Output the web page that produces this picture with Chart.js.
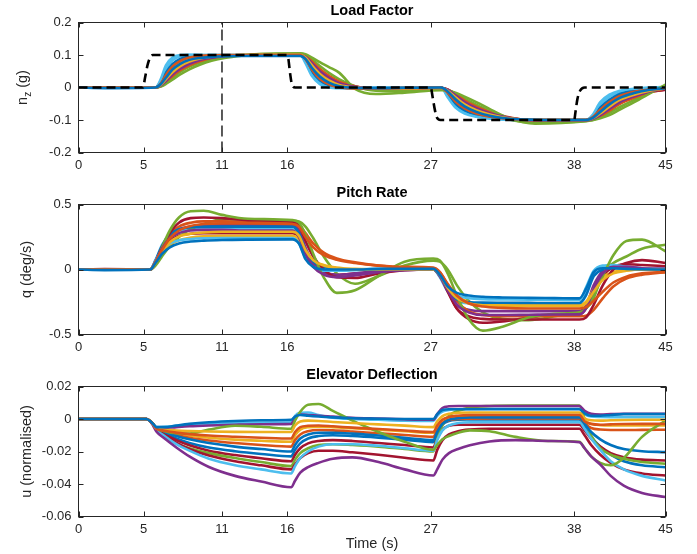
<!DOCTYPE html>
<html><head><meta charset="utf-8">
<script src="https://cdn.jsdelivr.net/npm/chart.js@4.4.1/dist/chart.umd.min.js"></script>
<style>
html,body{margin:0;padding:0;background:#fff;}
body{width:697px;height:554px;position:relative;overflow:hidden;}
canvas{position:absolute;left:0;}
</style></head><body>
<canvas id="c1" width="697" height="182" style="top:0px"></canvas>
<canvas id="c2" width="697" height="182" style="top:182px"></canvas>
<canvas id="c3" width="697" height="190" style="top:364px"></canvas>
<script>
// ---------- shared ticks ----------
const xTicks = [0, 5, 11, 16, 27, 38, 45];
const yTicksNz = [-0.2, -0.1, 0, 0.1, 0.2];
const yTicksQ = [-0.5, 0, 0.5];
const yTicksU = [-0.06, -0.04, -0.02, 0, 0.02];
const titles = ['Load Factor', 'Pitch Rate', 'Elevator Deflection'];

// ---------- Load factor (n_z) ----------
const tRef = [0, 4.95, 5.1, 5.3, 5.5, 5.7, 16, 16.1, 16.2, 16.35, 16.6, 27, 27.15, 27.3, 27.45, 27.75, 38, 38.1, 38.25, 38.45, 38.8, 45];
const nzRef = [0, 0, 0.03, 0.07, 0.093, 0.1, 0.1, 0.085, 0.05, 0.012, 0, 0, -0.03, -0.065, -0.09, -0.1, -0.1, -0.075, -0.035, -0.01, 0, 0];
const tMark = [11, 11];
const nzMark = [-0.2, 0.2];

const t1 = [0, 2, 5.9, 6.3, 6.7, 7.2, 7.8, 8.5, 9.3, 10.2, 11.2, 12.5, 14, 17.0, 17.4, 17.9, 18.5, 19.2, 20, 21.2, 22.8, 25, 27.8, 28.3, 28.9, 29.6, 30.5, 31.6, 33, 35, 38.9, 39.4, 40, 40.7, 41.5, 42.6, 43.8, 45];
const nz1 = [0, -0.002, 0, 0.01, 0.03, 0.055, 0.073, 0.085, 0.091, 0.094, 0.096, 0.097, 0.097, 0.097, 0.088, 0.06, 0.034, 0.015, 0.004, -0.001, -0.002, -0.001, 0, -0.012, -0.036, -0.058, -0.075, -0.088, -0.096, -0.099, -0.1, -0.094, -0.075, -0.052, -0.032, -0.017, -0.007, -0.002];
const nz2 = [0, 0, 0, 0.012, 0.038, 0.064, 0.082, 0.092, 0.097, 0.099, 0.1, 0.1, 0.1, 0.1, 0.087, 0.055, 0.027, 0.01, 0.001, -0.003, -0.003, -0.001, 0, -0.016, -0.043, -0.064, -0.08, -0.09, -0.097, -0.1, -0.1, -0.092, -0.068, -0.045, -0.026, -0.013, -0.006, -0.004];
const nz3 = [0, 0, 0, 0.008, 0.025, 0.047, 0.066, 0.08, 0.089, 0.095, 0.098, 0.1, 0.101, 0.101, 0.092, 0.068, 0.042, 0.022, 0.008, 0, -0.003, -0.003, -0.001, -0.01, -0.03, -0.052, -0.07, -0.084, -0.095, -0.1, -0.1, -0.095, -0.08, -0.059, -0.038, -0.022, -0.01, -0.003];
const nz4 = [0, 0, 0, 0.006, 0.02, 0.04, 0.058, 0.073, 0.085, 0.092, 0.096, 0.099, 0.1, 0.1, 0.094, 0.075, 0.05, 0.03, 0.013, 0.002, -0.004, -0.003, -0.001, -0.007, -0.024, -0.045, -0.064, -0.08, -0.093, -0.101, -0.101, -0.097, -0.085, -0.066, -0.045, -0.027, -0.012, -0.004];
const nz5 = [0, 0, 0, 0.003, 0.011, 0.024, 0.04, 0.056, 0.07, 0.082, 0.091, 0.098, 0.103, 0.105, 0.102, 0.092, 0.078, 0.063, 0.045, -0.004, -0.02, -0.016, -0.008, -0.009, -0.016, -0.028, -0.045, -0.068, -0.095, -0.111, -0.104, -0.101, -0.095, -0.085, -0.068, -0.045, -0.018, 0.009];
const nz6 = [0, 0, 0, 0.025, 0.068, 0.092, 0.1, 0.101, 0.1, 0.1, 0.1, 0.1, 0.1, 0.1, 0.075, 0.035, 0.01, 0, -0.002, -0.002, -0.001, 0, 0, -0.03, -0.062, -0.08, -0.09, -0.096, -0.099, -0.1, -0.1, -0.085, -0.045, -0.022, -0.01, -0.004, -0.001, 0.002];
const nz7 = [0, 0, 0, 0.007, 0.022, 0.044, 0.062, 0.077, 0.088, 0.094, 0.097, 0.099, 0.099, 0.099, 0.093, 0.072, 0.046, 0.026, 0.01, 0.001, -0.004, -0.004, -0.002, -0.008, -0.027, -0.048, -0.067, -0.082, -0.094, -0.1, -0.1, -0.096, -0.082, -0.062, -0.042, -0.025, -0.012, -0.007];
const nz8 = [0, 0, 0, 0.015, 0.045, 0.072, 0.088, 0.095, 0.098, 0.099, 0.099, 0.099, 0.099, 0.099, 0.085, 0.05, 0.022, 0.007, 0, -0.002, -0.002, -0.001, 0, -0.02, -0.05, -0.07, -0.084, -0.093, -0.098, -0.1, -0.1, -0.09, -0.062, -0.038, -0.02, -0.009, -0.003, 0];
const nz9 = [0, 0, 0, 0.005, 0.017, 0.035, 0.053, 0.068, 0.081, 0.09, 0.095, 0.099, 0.101, 0.102, 0.097, 0.08, 0.057, 0.036, 0.018, 0.004, -0.004, -0.004, -0.002, -0.006, -0.02, -0.04, -0.059, -0.077, -0.092, -0.102, -0.102, -0.098, -0.088, -0.071, -0.05, -0.031, -0.014, -0.006];
const nz10 = [0, 0, 0, 0.011, 0.033, 0.059, 0.077, 0.088, 0.094, 0.097, 0.099, 0.1, 0.1, 0.1, 0.089, 0.06, 0.032, 0.013, 0.003, -0.002, -0.003, -0.002, 0, -0.014, -0.039, -0.061, -0.078, -0.089, -0.096, -0.1, -0.1, -0.093, -0.072, -0.048, -0.029, -0.015, -0.006, -0.001];
const nz11 = [0, 0, 0, 0.008, 0.024, 0.046, 0.064, 0.078, 0.088, 0.094, 0.097, 0.099, 0.1, 0.1, 0.092, 0.07, 0.044, 0.024, 0.009, 0.001, -0.003, -0.003, -0.001, -0.009, -0.028, -0.05, -0.069, -0.083, -0.095, -0.1, -0.1, -0.096, -0.083, -0.063, -0.042, -0.025, -0.011, -0.005];
const nz12 = [0, 0, 0, 0.004, 0.014, 0.03, 0.048, 0.064, 0.077, 0.087, 0.094, 0.099, 0.103, 0.104, 0.1, 0.086, 0.066, 0.045, 0.025, 0.004, -0.01, -0.012, -0.006, -0.008, -0.018, -0.034, -0.053, -0.075, -0.098, -0.108, -0.103, -0.1, -0.092, -0.078, -0.06, -0.038, -0.016, 0.005];
const nz13 = [0, 0, 0, 0.02, 0.056, 0.083, 0.096, 0.1, 0.1, 0.1, 0.1, 0.1, 0.1, 0.1, 0.08, 0.042, 0.016, 0.003, -0.001, -0.002, -0.001, 0, 0, -0.025, -0.056, -0.076, -0.088, -0.095, -0.099, -0.1, -0.1, -0.088, -0.052, -0.028, -0.013, -0.005, -0.001, 0.001];
const nz14 = [0, 0, 0, 0.006, 0.019, 0.038, 0.056, 0.071, 0.083, 0.091, 0.096, 0.099, 0.1, 0.1, 0.095, 0.077, 0.053, 0.033, 0.015, 0.003, -0.004, -0.004, -0.002, -0.007, -0.023, -0.043, -0.062, -0.079, -0.093, -0.101, -0.101, -0.098, -0.087, -0.07, -0.049, -0.03, -0.014, -0.007];

// ---------- Pitch rate (q) ----------
const t2 = [0, 2, 5.5, 5.9, 6.4, 7, 7.7, 8.6, 9.6, 11, 13, 16.4, 16.9, 17.4, 18, 18.8, 19.8, 21.2, 23, 25, 27.2, 27.7, 28.3, 29, 29.9, 31, 32.5, 34.5, 36.5, 38.4, 38.9, 39.5, 40.2, 41, 42, 43.2, 45];
const q1 = [0, -0.005, 0, 0.05, 0.12, 0.17, 0.2, 0.215, 0.222, 0.227, 0.23, 0.232, 0.2, 0.08, 0.02, 0.0, 0.0, 0.0, 0.005, 0.005, 0.005, -0.04, -0.13, -0.18, -0.2, -0.21, -0.215, -0.218, -0.22, -0.222, -0.15, -0.02, 0.01, 0.01, 0.005, 0.002, 0.0];
const q2 = [0, 0, 0, 0.06, 0.15, 0.24, 0.3, 0.335, 0.35, 0.355, 0.355, 0.35, 0.33, 0.25, 0.17, 0.11, 0.075, 0.05, 0.03, 0.02, 0.015, -0.02, -0.11, -0.2, -0.26, -0.285, -0.295, -0.3, -0.3, -0.3, -0.29, -0.24, -0.17, -0.1, -0.055, -0.03, -0.02];
const q3 = [0, 0, 0, 0.05, 0.14, 0.21, 0.255, 0.275, 0.285, 0.29, 0.29, 0.29, 0.26, 0.15, 0.07, 0.03, 0.01, 0.0, 0.0, 0.0, 0.0, -0.04, -0.14, -0.22, -0.26, -0.275, -0.28, -0.282, -0.283, -0.283, -0.26, -0.17, -0.08, -0.03, -0.01, 0.0, 0.0];
const q4 = [0, 0, 0, 0.06, 0.16, 0.24, 0.28, 0.3, 0.305, 0.305, 0.3, 0.3, 0.25, 0.12, 0.02, -0.04, -0.06, -0.045, -0.02, -0.005, 0.0, -0.05, -0.16, -0.27, -0.33, -0.35, -0.35, -0.348, -0.346, -0.345, -0.3, -0.15, -0.03, 0.02, 0.02, 0.01, 0.005];
const q5 = [0, 0, 0, 0.05, 0.17, 0.3, 0.4, 0.448, 0.452, 0.42, 0.39, 0.38, 0.36, 0.27, 0.12, -0.06, -0.18, -0.16, -0.05, 0.06, 0.085, 0.07, -0.03, -0.2, -0.38, -0.47, -0.44, -0.37, -0.34, -0.33, -0.3, -0.2, -0.05, 0.11, 0.22, 0.23, 0.14];
const q6 = [0, 0, 0, 0.07, 0.15, 0.2, 0.225, 0.235, 0.24, 0.242, 0.242, 0.242, 0.2, 0.09, 0.02, -0.01, -0.01, 0.0, 0.005, 0.005, 0.005, -0.05, -0.15, -0.2, -0.22, -0.228, -0.23, -0.232, -0.233, -0.235, -0.14, -0.01, 0.03, 0.035, 0.02, 0.01, 0.005];
const q7 = [0, 0.003, 0, 0.06, 0.17, 0.28, 0.36, 0.395, 0.4, 0.395, 0.38, 0.37, 0.34, 0.22, 0.1, 0.0, -0.06, -0.065, -0.03, -0.005, 0.0, -0.05, -0.17, -0.3, -0.36, -0.38, -0.385, -0.385, -0.385, -0.385, -0.37, -0.27, -0.12, 0.0, 0.05, 0.072, 0.05];
const q8 = [0, 0, 0, 0.07, 0.18, 0.27, 0.31, 0.325, 0.33, 0.33, 0.33, 0.33, 0.28, 0.15, 0.06, 0.02, 0.005, 0.0, 0.0, 0.0, 0.0, -0.05, -0.15, -0.23, -0.25, -0.255, -0.256, -0.257, -0.258, -0.258, -0.2, -0.05, 0.0, 0.01, 0.005, 0.0, 0.0];
const q9 = [0, 0, 0, 0.06, 0.17, 0.27, 0.33, 0.36, 0.37, 0.37, 0.365, 0.36, 0.345, 0.28, 0.2, 0.13, 0.085, 0.055, 0.03, 0.015, 0.01, -0.02, -0.12, -0.24, -0.32, -0.35, -0.36, -0.36, -0.36, -0.36, -0.355, -0.31, -0.22, -0.13, -0.07, -0.04, -0.02];
const q10 = [0, 0, 0, 0.05, 0.13, 0.19, 0.225, 0.245, 0.255, 0.26, 0.26, 0.26, 0.23, 0.14, 0.07, 0.035, 0.015, 0.005, 0.0, 0.0, 0.0, -0.03, -0.12, -0.2, -0.25, -0.265, -0.27, -0.27, -0.27, -0.27, -0.25, -0.15, -0.06, -0.02, -0.005, 0.0, 0.0];
const q11 = [0, 0, 0, 0.06, 0.17, 0.26, 0.31, 0.33, 0.34, 0.34, 0.34, 0.34, 0.3, 0.17, 0.05, -0.02, -0.04, -0.03, -0.01, 0.0, 0.0, -0.04, -0.16, -0.27, -0.31, -0.32, -0.32, -0.32, -0.32, -0.32, -0.28, -0.12, -0.01, 0.025, 0.02, 0.01, 0.005];
const q12 = [0, 0, 0, 0.03, 0.1, 0.18, 0.25, 0.31, 0.35, 0.385, 0.385, 0.375, 0.37, 0.33, 0.24, 0.1, -0.03, -0.11, -0.05, 0.03, 0.068, 0.06, 0.0, -0.12, -0.24, -0.33, -0.38, -0.39, -0.36, -0.32, -0.3, -0.22, -0.02, 0.05, 0.1, 0.16, 0.19];
const q13 = [0, 0, 0, 0.07, 0.19, 0.27, 0.3, 0.31, 0.31, 0.31, 0.31, 0.31, 0.26, 0.12, 0.03, 0.0, -0.01, -0.005, 0.0, 0.0, 0.0, -0.06, -0.17, -0.24, -0.26, -0.262, -0.262, -0.262, -0.26, -0.26, -0.17, -0.02, 0.025, 0.02, 0.01, 0.005, 0.0];
const q14 = [0, 0, 0, 0.05, 0.14, 0.22, 0.26, 0.275, 0.28, 0.28, 0.28, 0.28, 0.25, 0.14, 0.04, -0.02, -0.04, -0.03, -0.01, 0.0, 0.0, -0.04, -0.16, -0.3, -0.38, -0.41, -0.4, -0.37, -0.35, -0.345, -0.3, -0.17, -0.05, 0.02, 0.04, 0.035, 0.025];

// ---------- Elevator deflection (u) ----------
const t3 = [0, 2, 5.2, 5.6, 6, 6.6, 7.5, 8.5, 10, 12, 14, 16.3, 16.6, 17, 17.6, 18.4, 19.5, 21, 23, 25, 27.2, 27.5, 27.9, 28.4, 29.1, 30, 31.5, 33.5, 36, 38.4, 38.8, 39.3, 40, 40.8, 41.8, 43.2, 45];
const u1 = [0, 0, 0, -0.002, -0.005, -0.005, -0.004, -0.003, -0.002, -0.0012, -0.0008, -0.0005, 0.0015, 0.0025, 0.002, 0.0015, 0.001, 0.0005, 0.0002, 0, 0, 0.003, 0.0055, 0.006, 0.006, 0.006, 0.006, 0.006, 0.006, 0.006, 0.0035, 0.002, 0.002, 0.0025, 0.003, 0.003, 0.003];
const u2 = [0, 0, 0, -0.002, -0.006, -0.0072, -0.0084, -0.0093, -0.0102, -0.0109, -0.0115, -0.012, -0.008, -0.005, -0.0042, -0.004, -0.0045, -0.0053, -0.0062, -0.0071, -0.008, -0.004, -0.0005, 0.0012, 0.002, 0.0024, 0.0025, 0.0025, 0.0025, 0.0025, -0.0015, -0.003, -0.0035, -0.0033, -0.0031, -0.003, -0.003];
const u3 = [0, 0, 0, -0.002, -0.006, -0.0066, -0.0071, -0.0074, -0.0077, -0.0079, -0.008, -0.008, -0.004, -0.0015, -0.001, -0.0012, -0.0018, -0.0025, -0.0033, -0.0041, -0.005, -0.0015, 0.0018, 0.0032, 0.0038, 0.004, 0.004, 0.004, 0.004, 0.004, 0.0005, -0.0008, -0.001, -0.0008, -0.0006, -0.0005, -0.0005];
const u4 = [0, 0, 0, -0.0025, -0.008, -0.012, -0.0175, -0.023, -0.0295, -0.035, -0.0385, -0.042, -0.038, -0.033, -0.0296, -0.027, -0.0245, -0.0236, -0.0265, -0.031, -0.0348, -0.031, -0.025, -0.021, -0.0185, -0.0162, -0.0138, -0.013, -0.0135, -0.0143, -0.018, -0.023, -0.028, -0.035, -0.041, -0.0455, -0.048];
const u5 = [0, 0, 0, -0.002, -0.006, -0.0075, -0.0088, -0.009, -0.0065, -0.0042, -0.0048, -0.006, -0.001, 0.0045, 0.0088, 0.0092, 0.005, -0.001, -0.008, -0.014, -0.019, -0.016, -0.0125, -0.0105, -0.0085, -0.007, -0.0075, -0.011, -0.0135, -0.014, -0.018, -0.023, -0.027, -0.0285, -0.024, -0.011, -0.001];
const u6 = [0, 0, 0, -0.0022, -0.007, -0.0105, -0.0155, -0.0195, -0.0245, -0.0285, -0.031, -0.0335, -0.029, -0.024, -0.02, -0.017, -0.0155, -0.0155, -0.0165, -0.018, -0.0195, -0.013, -0.007, -0.004, -0.0025, -0.002, -0.002, -0.002, -0.002, -0.002, -0.006, -0.012, -0.019, -0.026, -0.031, -0.035, -0.0378];
const u7 = [0, 0, 0, -0.002, -0.0065, -0.0098, -0.0145, -0.0185, -0.0225, -0.026, -0.0285, -0.031, -0.028, -0.024, -0.021, -0.0195, -0.0195, -0.0205, -0.022, -0.0238, -0.0255, -0.019, -0.013, -0.0095, -0.0075, -0.0065, -0.006, -0.006, -0.006, -0.006, -0.01, -0.016, -0.022, -0.027, -0.031, -0.0335, -0.0348];
const u8 = [0, 0, 0, -0.002, -0.006, -0.0082, -0.0105, -0.0125, -0.0148, -0.017, -0.0185, -0.02, -0.016, -0.012, -0.0095, -0.0085, -0.0085, -0.009, -0.0102, -0.0115, -0.013, -0.008, -0.003, -0.0005, 0.0005, 0.001, 0.001, 0.001, 0.001, 0.001, -0.003, -0.008, -0.0125, -0.016, -0.0185, -0.0198, -0.0204];
const u9 = [0, 0, 0, -0.002, -0.006, -0.0078, -0.0098, -0.0115, -0.0132, -0.0148, -0.016, -0.017, -0.013, -0.0095, -0.0075, -0.0068, -0.007, -0.0077, -0.0088, -0.0098, -0.011, -0.007, -0.0025, -0.0008, 0, 0.0002, 0.0003, 0.0003, 0.0003, 0.0003, -0.003, -0.0055, -0.0065, -0.0068, -0.0068, -0.0067, -0.0066];
const u10 = [0, 0, 0, -0.002, -0.006, -0.0072, -0.0088, -0.0101, -0.0115, -0.0127, -0.0134, -0.014, -0.01, -0.0065, -0.005, -0.0047, -0.005, -0.0057, -0.0066, -0.0075, -0.0085, -0.0045, -0.0005, 0.0012, 0.0018, 0.002, 0.002, 0.002, 0.002, 0.002, -0.001, -0.003, -0.0038, -0.004, -0.004, -0.004, -0.004];
const u11 = [0, 0, 0, -0.002, -0.0055, -0.0055, -0.005, -0.0045, -0.004, -0.0035, -0.0032, -0.003, 0.001, 0.0028, 0.0025, 0.002, 0.0015, 0.0008, 0.0003, -0.0002, -0.0005, 0.003, 0.0068, 0.0078, 0.008, 0.008, 0.008, 0.008, 0.008, 0.008, 0.005, 0.0032, 0.0028, 0.003, 0.0032, 0.0032, 0.0032];
const u12 = [0, 0, 0, -0.002, -0.007, -0.011, -0.015, -0.018, -0.021, -0.024, -0.0265, -0.029, -0.025, -0.021, -0.018, -0.016, -0.0155, -0.016, -0.017, -0.0185, -0.02, -0.012, -0.004, 0.002, 0.005, 0.007, 0.008, 0.0083, 0.0083, 0.0083, 0.0, -0.01, -0.018, -0.022, -0.0245, -0.0265, -0.0275];
const u13 = [0, 0, 0, -0.002, -0.005, -0.0048, -0.0042, -0.0036, -0.003, -0.0025, -0.0022, -0.002, 0.002, 0.0038, 0.004, 0.0025, 0.0008, 0, -0.0005, -0.001, -0.0012, 0.002, 0.0045, 0.0055, 0.006, 0.0062, 0.0063, 0.0063, 0.0063, 0.0063, 0.003, 0.0015, 0.0012, 0.0011, 0.0011, 0.0011, 0.0011];
const u14 = [0, 0, 0, -0.002, -0.0065, -0.0093, -0.013, -0.0162, -0.0195, -0.0222, -0.0242, -0.026, -0.022, -0.018, -0.015, -0.0135, -0.013, -0.0135, -0.0148, -0.016, -0.0175, -0.012, -0.0065, -0.0042, -0.0035, -0.0035, -0.0035, -0.0035, -0.0035, -0.0035, -0.007, -0.012, -0.017, -0.021, -0.0235, -0.025, -0.0255];
const u15 = [0, 0, 0, -0.002, -0.0065, -0.0088, -0.012, -0.0147, -0.0175, -0.0198, -0.0215, -0.023, -0.019, -0.015, -0.012, -0.0105, -0.01, -0.0105, -0.0115, -0.0127, -0.0142, -0.009, -0.0035, -0.0012, -0.0005, -0.0003, -0.0002, -0.0002, -0.0002, -0.0002, -0.005, -0.011, -0.017, -0.022, -0.026, -0.0285, -0.0297];

// ---------- styling / building ----------
const palette = ['#0072BD', '#D95319', '#EDB120', '#7E2F8E', '#77AC30', '#4DBEEE', '#A2142F'];
const FONT = "'Liberation Sans', Arial, Helvetica, sans-serif";
const AX = '#262626';

function lineSets(t, lines) {
  return lines.map((ys, i) => ({
    data: ys.map((y, k) => ({ x: t[k], y: y })),
    borderColor: palette[i % 7], borderWidth: 2.6, pointRadius: 0, fill: false,
    cubicInterpolationMode: 'monotone', order: 1
  }));
}

const boxPlugin = {
  id: 'boxAxes',
  afterDraw(chart) {
    const { ctx, chartArea: a } = chart;
    const x = chart.scales.x, y = chart.scales.y;
    ctx.save();
    ctx.strokeStyle = AX; ctx.lineWidth = 1;
    ctx.strokeRect(a.left, a.top, a.right - a.left, a.bottom - a.top);
    ctx.beginPath();
    x.ticks.forEach(t => {
      const px = Math.round(x.getPixelForValue(t.value)) + 0.5;
      ctx.moveTo(px, a.bottom); ctx.lineTo(px, a.bottom - 5);
      ctx.moveTo(px, a.top); ctx.lineTo(px, a.top + 5);
    });
    y.ticks.forEach(t => {
      const py = Math.round(y.getPixelForValue(t.value)) + 0.5;
      ctx.moveTo(a.left, py); ctx.lineTo(a.left + 5, py);
      ctx.moveTo(a.right, py); ctx.lineTo(a.right - 5, py);
    });
    ctx.stroke();
    ctx.restore();
  }
};

const nzLabelPlugin = {
  id: 'nzLabel',
  afterDraw(chart) {
    const { ctx, chartArea: a } = chart;
    ctx.save();
    const cy = (a.top + a.bottom) / 2;
    ctx.translate(27, cy);
    ctx.rotate(-Math.PI / 2);
    ctx.fillStyle = AX;
    ctx.textBaseline = 'alphabetic';
    ctx.textAlign = 'left';
    const big = '14.5px ' + FONT, small = '10px ' + FONT;
    ctx.font = big; const w1 = ctx.measureText('n').width; const w3 = ctx.measureText(' (g)').width;
    ctx.font = small; const w2 = ctx.measureText('z').width;
    let x0 = -(w1 + w2 + w3) / 2;
    ctx.font = big; ctx.fillText('n', x0, 0);
    ctx.font = small; ctx.fillText('z', x0 + w1, 4);
    ctx.font = big; ctx.fillText(' (g)', x0 + w1 + w2, 0);
    ctx.restore();
  }
};

function makeChart(id, canvasH, datasets, yMin, yMax, yTicks, title, yTitle, xTitle, extraPlugins) {
  const plotBottom = 152.5;
  return new Chart(document.getElementById(id), {
    type: 'line',
    data: { datasets: datasets },
    options: {
      responsive: false, animation: false, devicePixelRatio: 1,
      layout: { autoPadding: false, padding: { left: 0, right: 31.5, top: 0, bottom: 0 } },
      plugins: {
        legend: { display: false }, tooltip: { enabled: false },
        title: { display: true, text: title, fullSize: false, color: '#000',
                 font: { family: FONT, size: 14.5, weight: 'bold', lineHeight: 1.2 },
                 padding: { top: 2.5, bottom: 2.6 } }
      },
      scales: {
        x: {
          type: 'linear', min: 0, max: 45,
          afterBuildTicks: s => { s.ticks = xTicks.map(v => ({ value: v })); },
          afterFit: s => { s.height = canvasH - plotBottom; },
          grid: { display: false, drawTicks: false }, border: { display: false },
          ticks: { autoSkip: false, maxRotation: 0, padding: 5, color: AX,
                   font: { family: FONT, size: 13 }, callback: v => String(v) },
          title: { display: !!xTitle, text: xTitle || '', color: AX,
                   font: { family: FONT, size: 14.5 }, padding: { top: 0, bottom: 1 } }
        },
        y: {
          type: 'linear', min: yMin, max: yMax,
          afterBuildTicks: s => { s.ticks = yTicks.map(v => ({ value: v })); },
          afterFit: s => { s.width = 78.5; },
          grid: { display: false, drawTicks: false }, border: { display: false },
          ticks: { padding: 7, color: AX, font: { family: FONT, size: 13 }, callback: v => String(v) },
          title: { display: !!yTitle, text: yTitle || '', color: AX,
                   font: { family: FONT, size: 14.5 }, padding: { top: 18, bottom: 0 } }
        }
      }
    },
    plugins: [boxPlugin].concat(extraPlugins || [])
  });
}

// chart 1
const ds1 = [
  { data: tRef.map((t, k) => ({ x: t, y: nzRef[k] })), borderColor: '#000', borderWidth: 2.6,
    borderDash: [9, 5], pointRadius: 0, cubicInterpolationMode: 'monotone', order: 0 },
  { data: tMark.map((t, k) => ({ x: t, y: nzMark[k] })), borderColor: '#000', borderWidth: 1.3,
    borderDash: [11, 5], pointRadius: 0, order: 0 }
].concat(lineSets(t1, [nz1, nz2, nz3, nz4, nz5, nz6, nz7, nz8, nz9, nz10, nz11, nz12, nz13, nz14]));
makeChart('c1', 182, ds1, -0.2, 0.2, yTicksNz, titles[0], null, null, [nzLabelPlugin]);

// chart 2
makeChart('c2', 182, lineSets(t2, [q1, q2, q3, q4, q5, q6, q7, q8, q9, q10, q11, q12, q13, q14]),
  -0.5, 0.5, yTicksQ, titles[1], 'q (deg/s)', null);

// chart 3
makeChart('c3', 190, lineSets(t3, [u1, u2, u3, u4, u5, u6, u7, u8, u9, u10, u11, u12, u13, u14, u15]),
  -0.06, 0.02, yTicksU, titles[2], 'u (normalised)', 'Time (s)');
</script>
</body></html>
